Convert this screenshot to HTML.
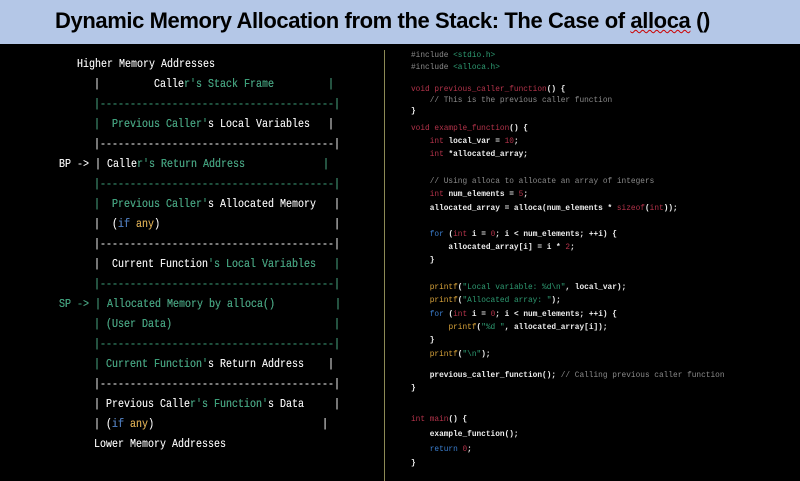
<!DOCTYPE html>
<html><head><meta charset="utf-8"><style>
*{margin:0;padding:0}
body{width:800px;height:481px;background:#000;position:relative;overflow:hidden;font-family:"Liberation Mono",monospace}
#hd{position:absolute;left:0;top:0;width:800px;height:44px;background:#b4c7e7}
#hd span.t{position:absolute;left:55px;top:8px;font-family:"Liberation Sans",sans-serif;font-size:22px;font-weight:bold;color:#000;white-space:nowrap;letter-spacing:-0.4px}
.u{text-decoration:underline wavy #c00;text-decoration-thickness:1px}
.l{position:absolute;font-size:10px;line-height:12px;white-space:pre;color:#f2f2f2;font-weight:normal;transform:scaleY(1.15);transform-origin:0 0;text-shadow:0 0 0.3px #f2f2f2}
.g{color:#2e9c73;font-weight:normal}
.b{color:#3b6fb8;font-weight:normal}
.o{color:#d7a23a;font-weight:normal}
.c{position:absolute;font-size:7.8px;line-height:10px;white-space:pre;color:#eee;font-weight:bold}
.k{color:#b3334a;font-weight:normal}
.cm{color:#8a8a8a;font-weight:normal}
.s{color:#2e9c73;font-weight:normal}
.p{color:#d7a23a;font-weight:normal}
.bl{color:#3b7fd0;font-weight:normal}
#vl{position:absolute;left:384px;top:50px;width:1px;height:431px;background:#8c8a55}
</style></head><body>
<div id="hd"><span class="t">Dynamic Memory Allocation from the Stack: The Case of <span class="u">alloca</span> ()</span></div>
<div id="vl"></div>

<div class="l" style="left:77px;top:59px">Higher Memory Addresses</div>
<div class="l" style="left:94px;top:79px">|         Calle<span class="g">r's Stack Frame         |</span></div>
<div class="l" style="left:94px;top:99px"><span class="g">|---------------------------------------|</span></div>
<div class="l" style="left:94px;top:119px"><span class="g">|  Previous Caller'</span>s Local Variables   |</div>
<div class="l" style="left:94px;top:139px">|---------------------------------------|</div>
<div class="l" style="left:59px;top:159px">BP -> | Calle<span class="g">r's Return Address             |</span></div>
<div class="l" style="left:94px;top:179px"><span class="g">|---------------------------------------|</span></div>
<div class="l" style="left:94px;top:199px"><span class="g">|  Previous Caller'</span>s Allocated Memory   |</div>
<div class="l" style="left:94px;top:219px">|  (<span class="b">if</span> <span class="o">any</span>)                             |</div>
<div class="l" style="left:94px;top:239px">|---------------------------------------|</div>
<div class="l" style="left:94px;top:259px">|  Current Function<span class="g">'s Local Variables   |</span></div>
<div class="l" style="left:94px;top:279px"><span class="g">|---------------------------------------|</span></div>
<div class="l" style="left:59px;top:299px"><span class="g">SP -> | Allocated Memory by alloca()          |</span></div>
<div class="l" style="left:94px;top:319px"><span class="g">| (User Data)                           |</span></div>
<div class="l" style="left:94px;top:339px"><span class="g">|---------------------------------------|</span></div>
<div class="l" style="left:94px;top:359px"><span class="g">| Current Function'</span>s Return Address    |</div>
<div class="l" style="left:94px;top:379px">|---------------------------------------|</div>
<div class="l" style="left:94px;top:399px">| Previous Calle<span class="g">r's Function'</span>s Data     |</div>
<div class="l" style="left:94px;top:419px">| (<span class="b">if</span> <span class="o">any</span>)                            |</div>
<div class="l" style="left:94px;top:439px">Lower Memory Addresses</div>

<div class="c" style="left:411px;top:51px"><span class="cm">#include </span><span class="s">&lt;stdio.h&gt;</span></div>
<div class="c" style="left:411px;top:63px"><span class="cm">#include </span><span class="s">&lt;alloca.h&gt;</span></div>
<div class="c" style="left:411px;top:85px"><span class="k">void previous_caller_function</span>() {</div>
<div class="c" style="left:411px;top:96px"><span class="cm">    // This is the previous caller function</span></div>
<div class="c" style="left:411px;top:107px">}</div>
<div class="c" style="left:411px;top:124px"><span class="k">void example_function</span>() {</div>
<div class="c" style="left:411px;top:137px">    <span class="k">int</span> local_var = <span class="k">10</span>;</div>
<div class="c" style="left:411px;top:150px">    <span class="k">int</span> *allocated_array;</div>
<div class="c" style="left:411px;top:177px"><span class="cm">    // Using alloca to allocate an array of integers</span></div>
<div class="c" style="left:411px;top:190px">    <span class="k">int</span> num_elements = <span class="k">5</span>;</div>
<div class="c" style="left:411px;top:204px">    allocated_array = alloca(num_elements * <span class="k">sizeof</span>(<span class="k">int</span>));</div>
<div class="c" style="left:411px;top:230px">    <span class="bl">for</span> (<span class="k">int</span> i = <span class="k">0</span>; i &lt; num_elements; ++i) {</div>
<div class="c" style="left:411px;top:243px">        allocated_array[i] = i * <span class="k">2</span>;</div>
<div class="c" style="left:411px;top:256px">    }</div>
<div class="c" style="left:411px;top:283px">    <span class="p">printf</span>(<span class="s">"Local variable: %d\n"</span>, local_var);</div>
<div class="c" style="left:411px;top:296px">    <span class="p">printf</span>(<span class="s">"Allocated array: "</span>);</div>
<div class="c" style="left:411px;top:310px">    <span class="bl">for</span> (<span class="k">int</span> i = <span class="k">0</span>; i &lt; num_elements; ++i) {</div>
<div class="c" style="left:411px;top:323px">        <span class="p">printf</span>(<span class="s">"%d "</span>, allocated_array[i]);</div>
<div class="c" style="left:411px;top:336px">    }</div>
<div class="c" style="left:411px;top:350px">    <span class="p">printf</span>(<span class="s">"\n"</span>);</div>
<div class="c" style="left:411px;top:371px">    previous_caller_function(); <span class="cm">// Calling previous caller function</span></div>
<div class="c" style="left:411px;top:384px">}</div>
<div class="c" style="left:411px;top:415px"><span class="k">int main</span>() {</div>
<div class="c" style="left:411px;top:430px">    example_function();</div>
<div class="c" style="left:411px;top:445px">    <span class="bl">return</span> <span class="k">0</span>;</div>
<div class="c" style="left:411px;top:459px">}</div>
</body></html>
